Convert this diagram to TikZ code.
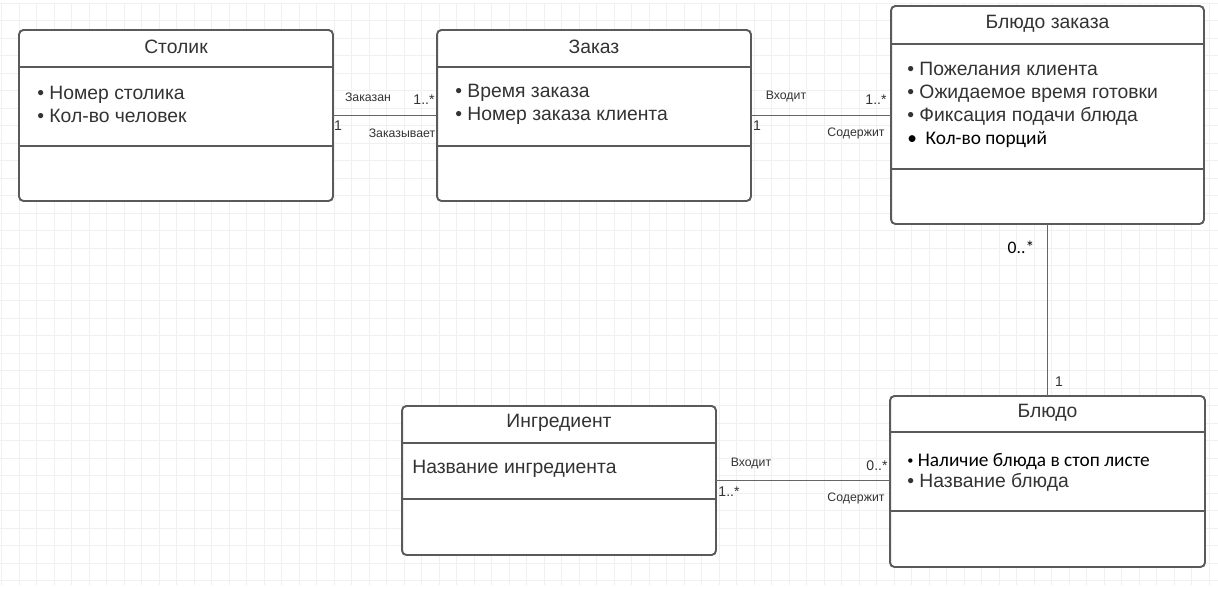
\documentclass[tikz,border=0pt]{standalone}
\usepackage{fontspec}
\setmainfont{Liberation Sans}
\newfontfamily\carlito{Carlito}
\usepackage{xcolor}
\usepackage{tikz}

\definecolor{boxline}{HTML}{5A5A5A}
\definecolor{txtgrey}{HTML}{333333}

\begin{document}
\begin{tikzpicture}[x=0.02cm, y=-0.02cm]
	\tikzset{class box/.style={draw=boxline, line width=1.1pt, rounded corners=2.5pt, fill=white, inner sep=0pt, outer sep=0pt},
		sep line/.style={boxline, line width=1.1pt},
		class title/.style={text=txtgrey, font=\fontsize{11}{13}\selectfont},
		attr/.style={text=txtgrey, font=\fontsize{11}{13.1}\selectfont, align=left, anchor=west, inner sep=0pt},
		assoc/.style={color=black!60, line width=0.9pt},
		role/.style={text=txtgrey, font=\fontsize{7}{8}\selectfont, inner sep=0pt},
		mult/.style={text=txtgrey, font=\fontsize{8}{9}\selectfont, inner sep=0pt},
		grid line/.style={color=black!6, line width=0.4pt}}
	\useasboundingbox (0,0) rectangle (1218,590);
	\fill[white] (0,0) rectangle (1218,590);
	\foreach \gx in {1.7,19.2,...,1218} \draw[grid line] (\gx,3) -- (\gx,585);
	\foreach \gy in {3.2,20.7,...,585} \draw[grid line] (0,\gy) -- (1218,\gy);

	\node[class box, minimum width=6.28cm, minimum height=3.42cm] (stolik) at (176,115.5) {};
	\draw[sep line] (stolik.north west) ++(0,37) -- ++(314,0);
	\draw[sep line] (stolik.north west) ++(0,116) -- ++(314,0);
	\node[class title] (stolik-title) at (176,47) {Столик};
	\node[attr] (stolik-attr) at (37,104) {• Номер столика\\• Кол-во человек};

	\node[class box, minimum width=6.28cm, minimum height=3.42cm] (zakaz) at (594,115.5) {};
	\draw[sep line] (zakaz.north west) ++(0,37) -- ++(314,0);
	\draw[sep line] (zakaz.north west) ++(0,116) -- ++(314,0);
	\node[class title] (zakaz-title) at (594,47) {Заказ};
	\node[attr] (zakaz-attr) at (455,104) {• Время заказа\\• Номер заказа клиента};

	\node[class box, minimum width=6.26cm, minimum height=4.36cm] (bludozak) at (1047.5,115) {};
	\draw[sep line] (bludozak.north west) ++(0,38) -- ++(313,0);
	\draw[sep line] (bludozak.north west) ++(0,163) -- ++(313,0);
	\node[class title] (bludozak-title) at (1047.5,24) {Блюдо заказа};
	\node[attr] (bludozak-attr) at (907,105) {• Пожелания клиента\\• Ожидаемое время готовки\\• Фиксация подачи блюда\\{\carlito\color{black}•\ \ Кол-во порций}};

	\node[class box, minimum width=6.3cm, minimum height=3.42cm] (bludo) at (1047.5,481.5) {};
	\draw[sep line] (bludo.north west) ++(0,36) -- ++(315,0);
	\draw[sep line] (bludo.north west) ++(0,115) -- ++(315,0);
	\node[class title] (bludo-title) at (1047.5,413) {Блюдо};
	\node[attr, font=\fontsize{11}{12}\selectfont] (bludo-attr) at (907,472) {{\carlito\color{black}\raisebox{1pt}{\scriptsize•} Наличие блюда в стоп листе}\\• Название блюда};

	\node[class box, minimum width=6.28cm, minimum height=2.98cm] (ingr) at (559,480.5) {};
	\draw[sep line] (ingr.north west) ++(0,37) -- ++(314,0);
	\draw[sep line] (ingr.north west) ++(0,93) -- ++(314,0);
	\node[class title] (ingr-title) at (559,423) {Ингредиент};
	\node[attr] (ingr-attr) at (412,469) {Название ингредиента};

	\draw[assoc] (stolik.east) -- (zakaz.west);
	\node[role] (zakazan) at (368,97) {Заказан};
	\node[mult] (m-zakaz) at (424,100) {1..*};
	\node[mult] (m-stolik) at (338,126) {1};
	\node[role] (zakazyvaet) at (402,133) {Заказывает};

	\draw[assoc] (zakaz.east) -- (zakaz.east -| bludozak.west);
	\node[role] (vhodit-a) at (786,97) {Входит};
	\node[mult] (m-bludozak) at (876,100) {1..*};
	\node[mult] (m-zakaz2) at (757,126) {1};
	\node[role] (soderzhit-a) at (856,133) {Содержит};

	\draw[assoc] (bludozak.south) -- (bludo.north);
	\node[font=\carlito\fontsize{10}{12}\selectfont] (m-bludozak2) at (1021,247) {0..*};
	\node[mult] (m-bludo) at (1059,382) {1};

	\draw[assoc] (ingr.east) -- (ingr.east -| bludo.west);
	\node[role] (vhodit-b) at (751,463) {Входит};
	\node[mult] (m-bludo2) at (877,466) {0..*};
	\node[mult] (m-ingr) at (729,492) {1..*};
	\node[role] (soderzhit-b) at (856,498) {Содержит};
\end{tikzpicture}
\end{document}
